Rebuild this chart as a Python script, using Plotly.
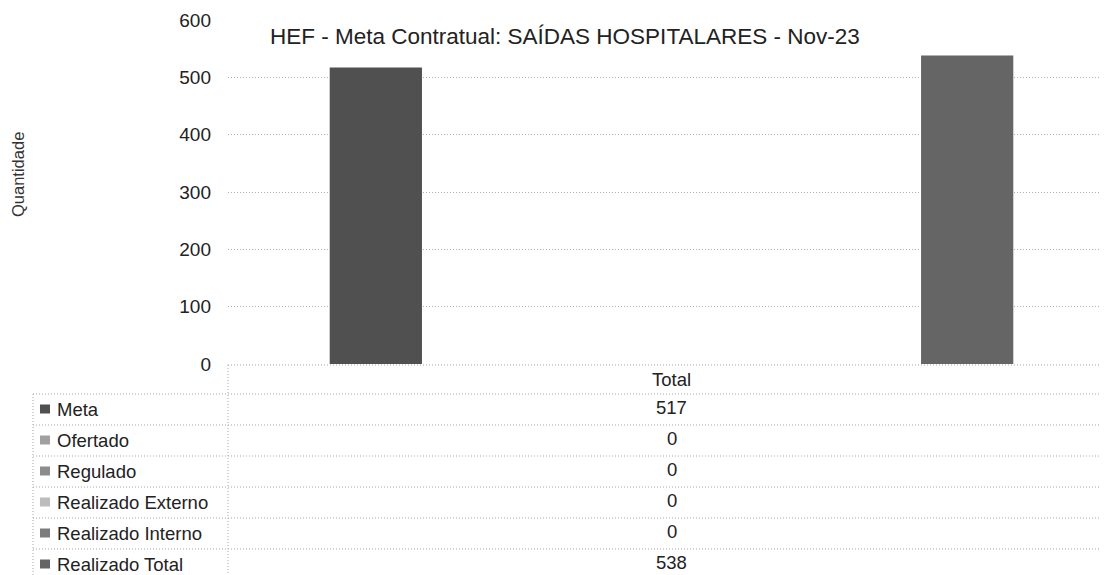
import plotly.graph_objects as go

# ---------------- data ----------------
categories = ["Total"]
series_names = ["Meta", "Ofertado", "Regulado", "Realizado Externo",
                "Realizado Interno", "Realizado Total"]
series_values = [517, 0, 0, 0, 0, 538]
series_colors = ["#505050", "#a0a0a0", "#8c8c8c", "#bcbcbc", "#7c7c7c", "#656565"]
y_ticks = [0, 100, 200, 300, 400, 500, 600]
title_text = "HEF - Meta Contratual: SAÍDAS HOSPITALARES - Nov-23"
y_title = "Quantidade"

W, H = 1107, 575
OFF = 8  # page body margin of the browser
FONT = "Arial, Liberation Sans, sans-serif"


def py(y):  # screen pixel y -> paper y
    return 1 - (y - OFF) / H


def pxx(x):  # screen pixel x -> paper x
    return (x - OFF) / W


fig = go.Figure()
for name, val, col in zip(series_names, series_values, series_colors):
    fig.add_trace(go.Bar(x=categories, y=[val], name=name,
                         marker=dict(color=col, line=dict(width=0)),
                         showlegend=False))

# ---------------- data table below the chart ----------------
grid_col = "#a8a8a8"
dot = "1px,2px"
plot_left = 228
label_left = 33
row_lines = [365, 394, 425, 456, 487, 518, 549, 580]
shapes = []
annotations = []

for i, y in enumerate(row_lines):
    x0 = plot_left if i == 0 else label_left
    shapes.append(dict(type="line", xref="paper", yref="paper",
                       x0=pxx(x0), x1=1, y0=py(y), y1=py(y),
                       line=dict(color=grid_col, width=1, dash=dot)))
shapes.append(dict(type="line", xref="paper", yref="paper",
                   x0=pxx(plot_left), x1=pxx(plot_left), y0=py(365), y1=py(580),
                   line=dict(color=grid_col, width=1, dash=dot)))
shapes.append(dict(type="line", xref="paper", yref="paper",
                   x0=pxx(label_left), x1=pxx(label_left), y0=py(394), y1=py(580),
                   line=dict(color=grid_col, width=1, dash=dot)))

annotations.append(dict(text=categories[0], xref="x", yref="paper",
                        x=categories[0], y=py(379), showarrow=False,
                        xanchor="center", yanchor="middle",
                        font=dict(family=FONT, size=18.5, color="#222")))

for i, (name, val, col) in enumerate(zip(series_names, series_values, series_colors)):
    yc = (row_lines[i + 1] + row_lines[i + 2]) / 2
    shapes.append(dict(type="rect", xref="paper", yref="paper",
                       x0=pxx(40), x1=pxx(50), y0=py(yc + 4), y1=py(yc - 5),
                       fillcolor=col, line=dict(width=0)))
    annotations.append(dict(text=name, xref="paper", yref="paper",
                            x=pxx(55), y=py(yc), showarrow=False,
                            xanchor="left", yanchor="middle",
                            font=dict(family=FONT, size=18.5, color="#222")))
    annotations.append(dict(text=str(val), xref="x", yref="paper",
                            x=categories[0], y=py(yc - 2), showarrow=False,
                            xanchor="center", yanchor="middle",
                            font=dict(family=FONT, size=18.5, color="#222")))

annotations.append(dict(text=y_title, xref="paper", yref="paper",
                        x=pxx(18), y=py(175), showarrow=False, textangle=-90,
                        xanchor="center", yanchor="middle",
                        font=dict(family=FONT, size=16.5, color="#333")))

annotations.append(dict(text=title_text, xref="paper", yref="paper",
                        x=pxx(565), y=py(37), showarrow=False,
                        xanchor="center", yanchor="middle",
                        font=dict(family=FONT, size=22.5, color="#222")))

fig.update_layout(
    width=W, height=H,
    margin=dict(l=0, r=0, t=0, b=0, autoexpand=False),
    paper_bgcolor="white", plot_bgcolor="white",
    barmode="group", bargap=0.2, bargroupgap=0.22,
    xaxis=dict(domain=[pxx(plot_left), 1], range=[-0.5, 0.5],
               showticklabels=False, showgrid=False, zeroline=False,
               showline=False, ticks="", automargin=False),
    yaxis=dict(domain=[py(364), py(20)], range=[0, 600], tickvals=y_ticks,
               showgrid=True, gridcolor="#b0b0b0", griddash=dot, gridwidth=1,
               zeroline=False, showline=False, ticks="", automargin=False,
               ticklabelstandoff=16,
               tickfont=dict(family=FONT, size=19, color="#222")),
    shapes=shapes,
    annotations=annotations,
    font=dict(family=FONT),
)

fig.write_html("out.html")
